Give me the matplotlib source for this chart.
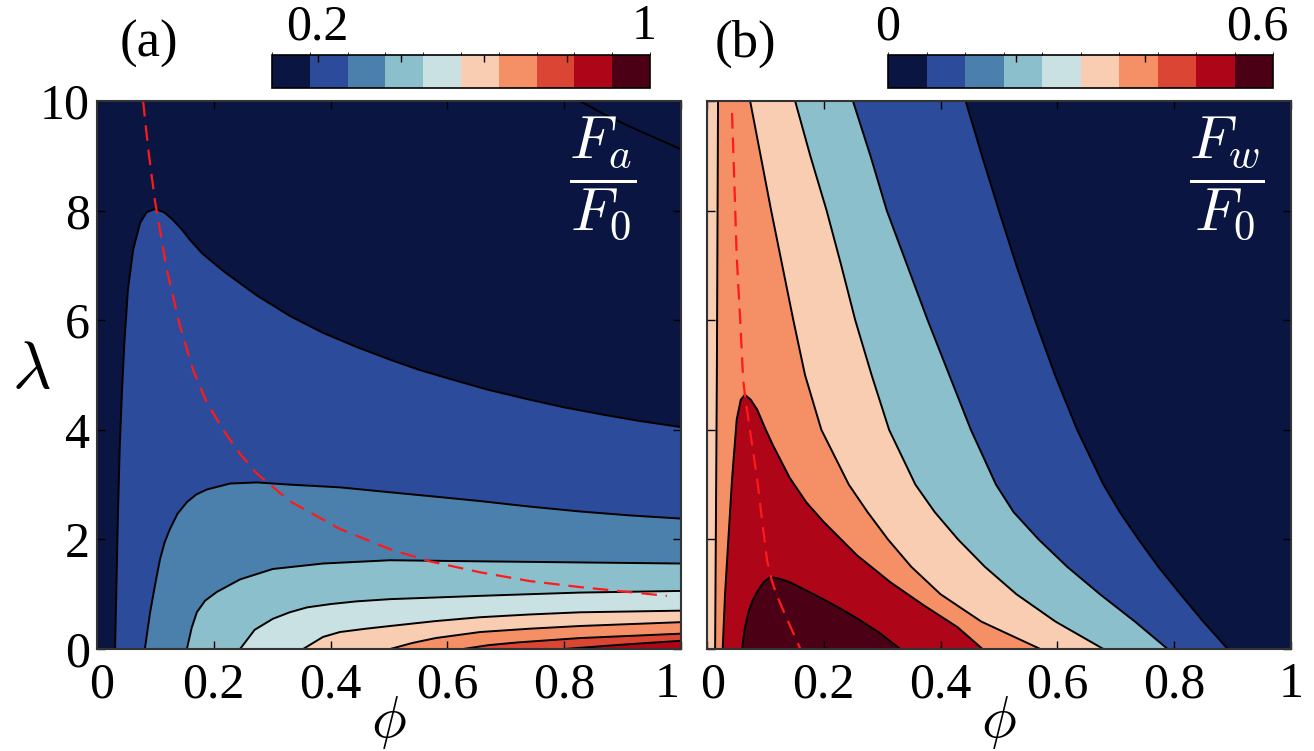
import matplotlib
matplotlib.use("Agg")
import matplotlib.pyplot as plt
from matplotlib.colors import ListedColormap, BoundaryNorm
from matplotlib.colorbar import ColorbarBase
from matplotlib.transforms import ScaledTranslation

plt.rcParams['font.family'] = ['Liberation Serif', 'DejaVu Serif']
plt.rcParams['mathtext.fontset'] = 'cm'

# colormap (10 discrete levels)
colors = ['#0a1542', '#2c4b9a', '#4a80ab', '#8bbfcb', '#c9e1e3',
          '#f8cdb2', '#f58f66', '#da4534', '#ae0518', '#4b0016']
navy, blue, steel, lblue, pale, peach, salmon, rorange, red, maroon = colors

a_levels = [0.09, 0.181, 0.272, 0.363, 0.454, 0.545, 0.636, 0.727, 0.818, 0.909, 1.0]
b_levels = [0.0, 0.06, 0.12, 0.18, 0.24, 0.30, 0.36, 0.42, 0.48, 0.54, 0.60]

# ---- panel (a): contour boundaries, phi vs lambda
a_c1_phi = [0.031, 0.036, 0.039, 0.043, 0.047, 0.053, 0.062, 0.074, 0.085, 0.099, 0.115, 0.130,
            0.145, 0.159, 0.180, 0.216, 0.274, 0.330, 0.387, 0.445, 0.502, 0.550, 0.604,
            0.670, 0.741, 0.800, 0.870, 0.930, 1.0]
a_c1_lam = [0.0, 2.5, 3.7, 4.74, 5.6, 6.56, 7.29, 7.78, 7.97, 8.03, 7.97, 7.83,
            7.66, 7.47, 7.22, 6.90, 6.45, 6.08, 5.77, 5.51, 5.28, 5.10, 4.93,
            4.73, 4.55, 4.41, 4.27, 4.16, 4.05]
a_c2_phi = [0.082, 0.091, 0.100, 0.108, 0.116, 0.125, 0.138, 0.154, 0.170, 0.188, 0.228,
            0.274, 0.330, 0.416, 0.502, 0.580, 0.656, 0.740, 0.827, 0.910, 1.0]
a_c2_lam = [0.0, 0.67, 1.20, 1.64, 1.95, 2.19, 2.47, 2.68, 2.82, 2.91, 3.02,
            3.04, 3.00, 2.95, 2.86, 2.78, 2.70, 2.60, 2.51, 2.44, 2.38]
a_c3_phi = [0.154, 0.162, 0.171, 0.185, 0.205, 0.245, 0.301, 0.387, 0.502, 0.656, 0.827, 1.0]
a_c3_lam = [0.0, 0.38, 0.67, 0.88, 1.04, 1.27, 1.46, 1.56, 1.62, 1.60, 1.58, 1.56]
a_c4_phi = [0.245, 0.270, 0.301, 0.330, 0.360, 0.400, 0.445, 0.502, 0.580, 0.656, 0.740, 0.827, 1.0]
a_c4_lam = [0.0, 0.35, 0.55, 0.67, 0.76, 0.82, 0.87, 0.91, 0.94, 0.97, 1.00, 1.03, 1.06]
a_c5_phi = [0.353, 0.387, 0.416, 0.460, 0.502, 0.580, 0.656, 0.740, 0.827, 1.0]
a_c5_lam = [0.0, 0.22, 0.31, 0.37, 0.42, 0.51, 0.58, 0.63, 0.67, 0.70]
a_c6_phi = [0.502, 0.540, 0.580, 0.656, 0.740, 0.827, 1.0]
a_c6_lam = [0.0, 0.11, 0.20, 0.31, 0.37, 0.42, 0.49]
a_c7_phi = [0.627, 0.670, 0.720, 0.827, 1.0]
a_c7_lam = [0.0, 0.07, 0.12, 0.20, 0.28]
a_c8_phi = [0.80, 0.90, 1.0]
a_c8_lam = [0.0, 0.08, 0.15]
a_top_phi = [0.827, 0.870, 0.913, 0.960, 1.0]
a_top_lam = [10.0, 9.75, 9.53, 9.31, 9.12]
a_dash_phi = [0.079, 0.088, 0.099, 0.119, 0.142, 0.165, 0.188, 0.216, 0.245, 0.274,
              0.330, 0.416, 0.502, 0.570, 0.656, 0.741, 0.827, 0.976]
a_dash_lam = [10.0, 9.1, 8.2, 6.95, 5.90, 5.08, 4.50, 4.0, 3.56, 3.20,
              2.70, 2.19, 1.82, 1.60, 1.40, 1.24, 1.13, 0.97]

# ---- panel (b)
b_c1_lam = [10, 9, 8, 7, 6, 5, 4, 3, 2.5, 2, 1.5, 1, 0.5, 0]
b_c1_phi = [0.443, 0.471, 0.500, 0.530, 0.562, 0.596, 0.634, 0.679, 0.707, 0.739, 0.773, 0.811, 0.850, 0.892]
b_c2_lam = [10, 9, 8, 7, 6, 5, 4, 3, 2.5, 2, 1.5, 1, 0.5, 0]
b_c2_phi = [0.250, 0.280, 0.308, 0.343, 0.378, 0.415, 0.452, 0.495, 0.525, 0.568, 0.617, 0.673, 0.733, 0.789]
b_c3_lam = [10, 9, 8, 7, 6, 5, 4, 3, 2.5, 2, 1.5, 1, 0.5, 0]
b_c3_phi = [0.151, 0.177, 0.205, 0.230, 0.254, 0.282, 0.312, 0.357, 0.390, 0.430, 0.476, 0.530, 0.597, 0.679]
b_c4_lam = [10, 9, 8, 7, 6, 5, 4, 3, 2.5, 2, 1.5, 1, 0.5, 0]
b_c4_phi = [0.074, 0.092, 0.110, 0.129, 0.148, 0.168, 0.196, 0.243, 0.275, 0.310, 0.350, 0.400, 0.470, 0.571]
b_c5_phi = [0.027, 0.031, 0.036, 0.043, 0.051, 0.058, 0.065, 0.075, 0.086, 0.100, 0.113,
            0.142, 0.170, 0.199, 0.257, 0.314, 0.371, 0.429, 0.472]
b_c5_lam = [0.0, 1.0, 1.88, 3.10, 4.19, 4.55, 4.64, 4.55, 4.37, 4.02, 3.72,
            3.12, 2.68, 2.33, 1.71, 1.22, 0.80, 0.40, 0.0]
b_c6_phi = [0.060, 0.065, 0.071, 0.078, 0.086, 0.097, 0.108, 0.122, 0.142, 0.170,
            0.199, 0.230, 0.257, 0.295, 0.331]
b_c6_lam = [0.0, 0.38, 0.67, 0.88, 1.04, 1.22, 1.31, 1.29, 1.22, 1.07,
            0.91, 0.73, 0.56, 0.30, 0.0]
b_strip_phi = [0.019, 0.017, 0.014]
b_strip_lam = [10.0, 5.0, 0.0]
b_dash_phi = [0.043, 0.047, 0.051, 0.057, 0.062, 0.065, 0.075, 0.086, 0.095, 0.103,
              0.111, 0.120, 0.140, 0.160]
b_dash_lam = [9.78, 8.5, 7.16, 6.0, 4.92, 4.64, 3.9, 3.10, 2.30, 1.62,
              1.25, 0.97, 0.48, 0.0]

TICK_FS = 36
LW = 1.4
RED_DASH = '#ff1a1a'


def shift_label(ax, label, dx):
    label.set_transform(label.get_transform() +
                        ScaledTranslation(dx / 100.0, 0, ax.figure.dpi_scale_trans))


def style_axes(ax, ylabels=True):
    ax.set_xlim(0, 1)
    ax.set_ylim(0, 10)
    ax.set_xticks([0, 0.2, 0.4, 0.6, 0.8, 1])
    ax.set_xticklabels(['0', '0.2', '0.4', '0.6', '0.8', '1'])
    ax.set_yticks([0, 2, 4, 6, 8, 10])
    ax.tick_params(direction='in', top=True, right=True, length=6, width=1,
                   labelsize=TICK_FS, pad=9, labelleft=ylabels)
    ax.tick_params(axis='y', pad=5)
    for s in ax.spines.values():
        s.set_linewidth(1.5)
        s.set_color('#333333')
    ax.set_xlabel(r'$\phi$', fontsize=42, labelpad=-10)


def colorbar(cax, levels, ticks):
    cmap = ListedColormap(colors)
    norm = BoundaryNorm(levels, cmap.N)
    cb = ColorbarBase(cax, cmap=cmap, norm=norm, orientation='horizontal', ticks=ticks)
    cax.xaxis.set_ticks_position('top')
    cax.tick_params(direction='in', length=5, width=1, labeltop=False, labelbottom=False)
    cb.outline.set_linewidth(1.2)
    return cb


fig = plt.figure(figsize=(13.14, 7.51), dpi=100)
ax_a = fig.add_axes([0.0738, 0.1358, 0.4444, 0.7297])
ax_b = fig.add_axes([0.5380, 0.1358, 0.4444, 0.7297])
cax_a = fig.add_axes([0.207, 0.8828, 0.2877, 0.0439])
cax_b = fig.add_axes([0.6758, 0.8828, 0.2930, 0.0439])

# panel (a): nested regions open to the bottom-right corner
ax_a.set_facecolor(navy)
a_curves = [(a_c1_phi, a_c1_lam, blue), (a_c2_phi, a_c2_lam, steel),
            (a_c3_phi, a_c3_lam, lblue), (a_c4_phi, a_c4_lam, pale),
            (a_c5_phi, a_c5_lam, peach), (a_c6_phi, a_c6_lam, salmon),
            (a_c7_phi, a_c7_lam, rorange), (a_c8_phi, a_c8_lam, red)]
for phi, lam, c in a_curves:
    ax_a.fill(phi + [1.0], lam + [0.0], color=c, lw=0)
for phi, lam, c in a_curves:
    ax_a.plot(phi, lam, color='k', lw=LW, solid_joinstyle='round')
ax_a.plot(a_top_phi, a_top_lam, color='k', lw=LW)
ax_a.plot(a_dash_phi, a_dash_lam, color=RED_DASH, lw=1.6, dashes=(7, 4))
ax_a.text(0.866, 8.6, r'$\dfrac{F_a}{F_0}$', color='white', fontsize=44, ha='center', va='center')
style_axes(ax_a)

# panel (b): regions open to the left edge
ax_b.set_facecolor(navy)
b_bands = [(b_c1_phi, b_c1_lam, blue), (b_c2_phi, b_c2_lam, lblue),
           (b_c3_phi, b_c3_lam, peach), (b_c4_phi, b_c4_lam, salmon)]
for phi, lam, c in b_bands:
    ax_b.fill(phi + [0.0, 0.0], lam + [0, 10], color=c, lw=0)
ax_b.fill(b_c5_phi, b_c5_lam, color=red, lw=0)
ax_b.fill(b_c6_phi, b_c6_lam, color=maroon, lw=0)
ax_b.fill(b_strip_phi + [0.0, 0.0], b_strip_lam + [0.0, 10.0], color=peach, lw=0)
for phi, lam, c in b_bands:
    ax_b.plot(phi, lam, color='k', lw=LW, solid_joinstyle='round')
ax_b.plot(b_c5_phi, b_c5_lam, color='k', lw=LW, solid_joinstyle='round')
ax_b.plot(b_c6_phi, b_c6_lam, color='k', lw=LW, solid_joinstyle='round')
ax_b.plot(b_strip_phi, b_strip_lam, color='k', lw=LW)
ax_b.plot(b_dash_phi, b_dash_lam, color=RED_DASH, lw=1.6, dashes=(7, 4))
ax_b.text(0.89, 8.6, r'$\dfrac{F_w}{F_0}$', color='white', fontsize=44, ha='center', va='center')
style_axes(ax_b, ylabels=False)

# nudge edge tick labels like the original
xl_a = ax_a.get_xticklabels()
shift_label(ax_a, xl_a[0], 5)
shift_label(ax_a, xl_a[-1], -14)
xl_b = ax_b.get_xticklabels()
shift_label(ax_b, xl_b[0], 6)

fig.text(0.024, 0.505, r'$\lambda$', fontsize=48, ha='center', va='center')

# colorbars
colorbar(cax_a, a_levels, [0.2, 0.4, 0.6, 0.8])
colorbar(cax_b, b_levels, [0.2, 0.4])
cax_a.text(0.2, 1.15, '0.2', fontsize=TICK_FS, ha='center', va='bottom',
           transform=cax_a.get_xaxis_transform())
cax_a.text(0.985, 1.15, '1', fontsize=TICK_FS, ha='center', va='bottom',
           transform=cax_a.get_xaxis_transform())
cax_b.text(0.0, 1.15, '0', fontsize=TICK_FS, ha='center', va='bottom',
           transform=cax_b.get_xaxis_transform())
cax_b.text(0.575, 1.15, '0.6', fontsize=TICK_FS, ha='center', va='bottom',
           transform=cax_b.get_xaxis_transform())

fig.text(0.113, 0.942, '(a)', fontsize=38, ha='center', va='center')
fig.text(0.567, 0.942, '(b)', fontsize=38, ha='center', va='center')

fig.savefig('out.png', dpi=100)
